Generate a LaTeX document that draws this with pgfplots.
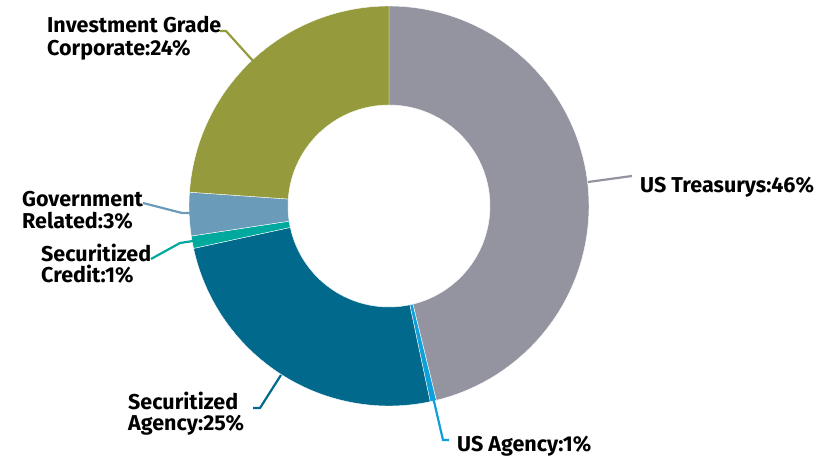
\documentclass[border=0pt]{standalone}
\usepackage{pgfplots}
\usepackage{pgfplotstable}
\pgfplotsset{compat=1.18}
\usepackage{fontspec}
\setmainfont{Fira Sans}
\definecolor{slice0}{HTML}{9394A0}
\definecolor{slice1}{HTML}{0FA0DC}
\definecolor{slice2}{HTML}{00698C}
\definecolor{slice3}{HTML}{00A99D}
\definecolor{slice4}{HTML}{6A9CBA}
\definecolor{slice5}{HTML}{959A3C}
\pgfplotstableread{
label share
Treasurys 46.2
Agency 0.5
SecAgency 24.9
SecCredit 1.0
GovRelated 3.5
IGCorporate 23.9
}\slices
\begin{document}
\begin{tikzpicture}
\begin{axis}[hide axis, scale only axis, width=835bp, height=458bp,
  xmin=0, xmax=835, ymin=0, ymax=458, y dir=reverse, clip=false]
\pgfplotsextra{
  \path (0,0) rectangle (835,458);
  \pgfplotstablegetrowsof{\slices}
  \pgfmathtruncatemacro\N{\pgfplotsretval-1}
  \gdef\cum{0}
  \foreach \i in {0,...,\N}{
    \pgfplotstablegetelem{\i}{share}\of\slices
    \pgfmathsetmacro\va{90-3.6*\cum}
    \pgfmathsetmacro\vc{\cum+\pgfplotsretval}
    \pgfmathsetmacro\vb{90-3.6*\vc}
    \xdef\cum{\vc}
    \fill[slice\i, draw=white, line width=0.4pt]
      plot[domain=\va:\vb, samples=80, variable=\t] ({389+200*cos(\t)},{206-200*sin(\t)})
      -- plot[domain=\vb:\va, samples=80, variable=\t] ({389+101*cos(\t)},{206-101*sin(\t)})
      -- cycle;
  }
  \begin{scope}[line width=2.2pt]
  \draw[slice5] (220,31) -- (226,31) -- (254,62);
  \draw[slice4] (143,203) -- (182,213) -- (192,213);
  \draw[slice3] (151,259) -- (180,243) -- (193,241);
  \draw[slice2] (253,408) -- (260,408) -- (281,375);
  \draw[slice1] (433,397) -- (443,440) -- (449,440);
  \draw[slice0] (588,182) -- (632,176);
  \end{scope}
  \begin{scope}[font=\fontsize{21.5bp}{23bp}\selectfont\bfseries, text=black, inner sep=0pt, anchor=base west]
  \node at (47,33) {Investment Grade};
  \node at (47,56) {Corporate:24\%};
  \node at (22,206) {Government};
  \node at (22,228) {Related:3\%};
  \node at (41,261) {Securitized};
  \node at (41,282) {Credit:1\%};
  \node at (128,409) {Securitized};
  \node at (128,430) {Agency:25\%};
  \node at (457,451) {US Agency:1\%};
  \node at (640,192) {US Treasurys:46\%};
  \end{scope}
}
\end{axis}
\end{tikzpicture}
\end{document}
